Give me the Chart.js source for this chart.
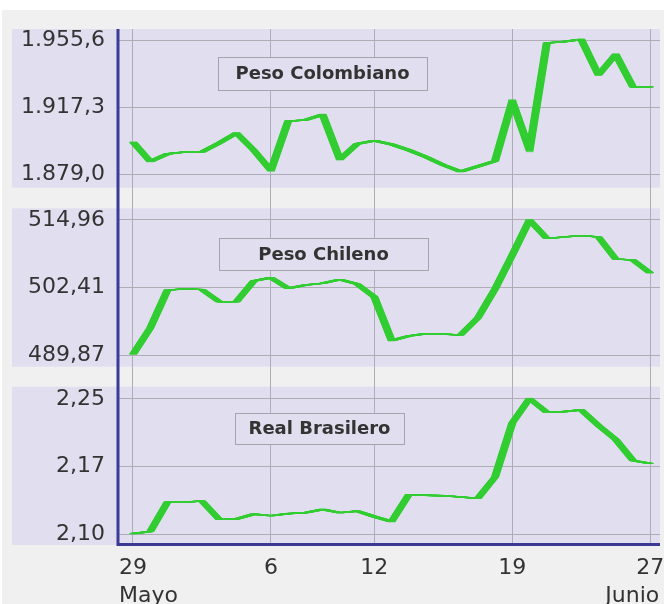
<!DOCTYPE html>
<html>
<head>
<meta charset="utf-8">
<script src="https://cdn.jsdelivr.net/npm/chart.js@4/dist/chart.umd.min.js"></script>
<style>
  html, body { margin: 0; padding: 0; background: #ffffff; }
  #wrap { width: 664px; height: 604px; }
</style>
</head>
<body>
<div id="wrap"><canvas id="c" width="664" height="604"></canvas></div>
<script>
// ---------- data ----------
const xTickIndex  = [0, 8, 14, 22, 30];
const xTickLabels = ['29', '6', '12', '19', '27'];
const monthLabels = ['Mayo', 'Junio'];

const colName = 'Peso Colombiano';
const colValues = [1897.6, 1886.5, 1890.8, 1891.9, 1891.9, 1897.0, 1902.7, 1893.0, 1881.4, 1909.5,
                   1910.1, 1913.2, 1887.6, 1896.5, 1898.4, 1896.2, 1893.0, 1889.1, 1884.5, 1880.8,
                   1883.7, 1886.8, 1920.9, 1893.0, 1953.9, 1954.7, 1955.9, 1935.7, 1947.4, 1928.9, 1928.9];
const colTickValues = [1879.0, 1917.3, 1955.6];
const colTickLabels = ['1.879,0', '1.917,3', '1.955,6'];

const chiName = 'Peso Chileno';
const chiValues = [490.00, 494.89, 501.95, 502.14, 502.04, 499.78, 499.78, 503.62, 504.24, 502.27,
                   502.88, 503.20, 503.90, 503.07, 500.65, 492.57, 493.40, 493.83, 493.77, 493.59,
                   496.75, 502.14, 508.46, 514.96, 511.52, 511.80, 512.08, 511.80, 507.71, 507.53, 505.11];
const chiTickValues = [489.87, 502.41, 514.96];
const chiTickLabels = ['489,87', '502,41', '514,96'];

const braName = 'Real Brasilero';
const braValues = [2.1025, 2.1047, 2.1361, 2.1361, 2.1372, 2.1177, 2.1180, 2.1233, 2.1215, 2.1237,
                   2.1247, 2.1283, 2.1247, 2.1265, 2.1205, 2.1153, 2.1441, 2.1433, 2.1429, 2.1415,
                   2.1401, 2.1628, 2.2204, 2.2465, 2.2318, 2.2325, 2.2343, 2.2177, 2.2028, 2.1804, 2.1772];
const braTickValues = [2.102, 2.174, 2.246];
const braTickLabels = ['2,10', '2,17', '2,25'];

// ---------- style ----------
const GREEN = '#32cd32';
const LAV = '#e1dfef';
const BG = '#f0f0f0';
const GRID = '#aeadb6';
const AXIS = '#3b3b95';
const TXT = '#333333';
const FONT = '"DejaVu Sans", Verdana, sans-serif';

const toPts = arr => arr.map((v, i) => ({ x: i, y: v }));

function yAxis(min, max, weight, tv, tl) {
  return {
    type: 'linear', position: 'left', stack: 'panels', stackWeight: weight,
    min: min, max: max,
    grid: { color: GRID, lineWidth: 1, drawTicks: false },
    border: { display: false },
    afterBuildTicks: s => { s.ticks = tv.map(v => ({ value: v })); },
    afterFit: s => { s.width = 118; s.paddingTop = 0; s.paddingBottom = 0; },
    ticks: {
      padding: 13, color: TXT, font: { family: FONT, size: 22 },
      callback: v => tl[tv.indexOf(v)]
    }
  };
}
function spacer(weight) {
  return { type: 'linear', position: 'left', stack: 'panels', stackWeight: weight, display: false, min: 0, max: 1 };
}

const panelAxes = ['yCol', 'yChi', 'yBra'];
const boxes = {
  yCol: { text: colName, x: 218, y: 57, w: 209, h: 33 },
  yChi: { text: chiName, x: 219, y: 238, w: 209, h: 32 },
  yBra: { text: braName, x: 235, y: 413, w: 169, h: 31 }
};

const bgPlugin = {
  id: 'bgPanels',
  beforeDraw(chart) {
    const ctx = chart.ctx, ca = chart.chartArea;
    ctx.save();
    ctx.fillStyle = '#ffffff';
    ctx.fillRect(0, 0, chart.width, chart.height);
    ctx.fillStyle = BG;
    ctx.fillRect(2, 10, chart.width - 2, chart.height - 10);
    ctx.fillStyle = LAV;
    for (const id of panelAxes) {
      const s = chart.scales[id];
      ctx.fillRect(12, s.top, ca.right - 12, s.bottom - s.top);
    }
    ctx.restore();
  },
  afterDatasetsDraw(chart) {
    const ctx = chart.ctx, ca = chart.chartArea;
    ctx.save();
    // title boxes
    for (const id of panelAxes) {
      const b = boxes[id];
      ctx.fillStyle = LAV;
      ctx.fillRect(b.x, b.y, b.w, b.h);
      ctx.strokeStyle = '#a5a4ad';
      ctx.lineWidth = 1;
      ctx.strokeRect(b.x + 0.5, b.y + 0.5, b.w, b.h);
      ctx.fillStyle = TXT;
      ctx.font = 'bold 18px ' + FONT;
      ctx.textAlign = 'center';
      ctx.textBaseline = 'middle';
      ctx.fillText(b.text, b.x + b.w / 2, b.y + b.h / 2 + 1);
    }
    // blue axis lines
    ctx.strokeStyle = AXIS;
    ctx.lineWidth = 3;
    ctx.beginPath();
    ctx.moveTo(ca.left, ca.top);
    ctx.lineTo(ca.left, ca.bottom + 1);
    ctx.moveTo(ca.left - 1.5, ca.bottom - 0.5);
    ctx.lineTo(ca.right, ca.bottom - 0.5);
    ctx.stroke();
    // month labels
    const xs = chart.scales.x;
    ctx.fillStyle = TXT;
    ctx.font = '22px ' + FONT;
    ctx.textBaseline = 'alphabetic';
    const firstPx = xs.getPixelForValue(xTickIndex[0]);
    const lastPx = xs.getPixelForValue(xTickIndex[xTickIndex.length - 1]);
    const w0 = ctx.measureText(xTickLabels[0]).width;
    const w1 = ctx.measureText(xTickLabels[xTickLabels.length - 1]).width;
    ctx.textAlign = 'left';
    ctx.fillText(monthLabels[0], firstPx - w0 / 2, 602);
    ctx.textAlign = 'right';
    ctx.fillText(monthLabels[1], lastPx + w1 / 2 - 5, 602);
    ctx.restore();
  }
};

const penPlugin = {
  id: 'pen',
  beforeDatasetDraw(chart, args) {
    const ctx = chart.ctx;
    const el = args.meta.dataset;
    for (let k = -7; k <= 7; k++) {
      if (k === 0) continue;
      ctx.save();
      ctx.translate(k * 0.5, 0);
      el.draw(ctx, chart.chartArea);
      ctx.restore();
    }
  }
};

const ds = (label, vals, axis) => ({
  label: label, data: toPts(vals), yAxisID: axis,
  borderColor: GREEN, backgroundColor: GREEN, borderWidth: 1.2,
  pointRadius: 0, tension: 0, fill: false, borderJoinStyle: 'miter'
});

new Chart(document.getElementById('c'), {
  type: 'line',
  data: {
    datasets: [
      ds(colName, colValues, 'yCol'),
      ds(chiName, chiValues, 'yChi'),
      ds(braName, braValues, 'yBra')
    ]
  },
  options: {
    responsive: false,
    animation: false,
    devicePixelRatio: 1,
    layout: { padding: { top: 29, right: 4, bottom: 0, left: 0 } },
    plugins: { legend: { display: false }, tooltip: { enabled: false } },
    scales: {
      x: {
        type: 'linear', position: 'bottom', min: -0.87, max: 30.568,
        grid: { color: GRID, lineWidth: 1, drawTicks: false },
        border: { display: false },
        afterBuildTicks: s => { s.ticks = xTickIndex.map(v => ({ value: v })); },
        afterFit: s => { s.height = 59; s.paddingLeft = 0; s.paddingRight = 0; },
        ticks: {
          autoSkip: false, maxRotation: 0, padding: 10, color: TXT,
          font: { family: FONT, size: 22 },
          callback: v => xTickLabels[xTickIndex.indexOf(v)]
        }
      },
      yBra: yAxis(2.0903, 2.2591, 158.3, braTickValues, braTickLabels),
      gap2: spacer(20),
      yChi: yAxis(487.70, 517.13, 158.4, chiTickValues, chiTickLabels),
      gap1: spacer(20.6),
      yCol: yAxis(1871.6, 1961.86, 158.7, colTickValues, colTickLabels)
    }
  },
  plugins: [bgPlugin, penPlugin]
});
</script>
</body>
</html>
